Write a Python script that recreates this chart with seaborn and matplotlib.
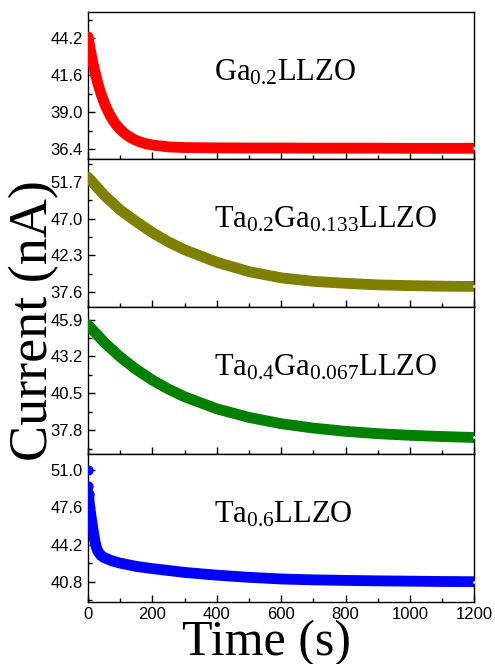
import numpy as np
import pandas as pd
import matplotlib
matplotlib.use("Agg")
import matplotlib.pyplot as plt
from matplotlib.ticker import AutoMinorLocator, FixedLocator
import seaborn as sns

# ---------------- data ----------------
t_ga = [0, 5, 10, 15, 20, 30, 40, 50, 60, 70, 80, 90, 100, 120, 140, 160, 180,
        200, 250, 300, 400, 500, 600, 700, 800, 900, 1000, 1100, 1200]
i_ga = [44.30, 43.63, 43.02, 42.46, 41.95, 41.05, 40.31, 39.68, 39.16, 38.72,
        38.35, 38.05, 37.79, 37.40, 37.12, 36.93, 36.79, 36.70, 36.57, 36.52,
        36.50, 36.49, 36.49, 36.48, 36.48, 36.48, 36.47, 36.47, 36.47]

t_ta2 = [0, 50, 100, 150, 200, 250, 300, 400, 500, 600, 700, 800, 900, 1000, 1100, 1200]
i_ta2 = [52.3, 50.0, 48.1, 46.6, 45.2, 44.0, 43.0, 41.4, 40.2, 39.4, 38.95, 38.7,
         38.5, 38.4, 38.33, 38.3]

t_ta4 = [0, 50, 100, 150, 200, 250, 300, 400, 500, 600, 700, 800, 900, 1000, 1100, 1200]
i_ta4 = [45.5, 44.23, 43.15, 42.24, 41.46, 40.80, 40.24, 39.36, 38.73, 38.27,
         37.95, 37.71, 37.54, 37.42, 37.33, 37.26]

t_ta6 = [0, 1, 2, 3, 5, 10, 15, 20, 25, 30, 40, 50, 75, 100, 150, 200, 300, 400,
         500, 600, 700, 800, 900, 1000, 1100, 1200]
i_ta6 = [51.0, 49.6, 48.8, 48.2, 47.6, 46.6, 45.6, 44.7, 44.0, 43.6, 43.2, 43.0,
         42.7, 42.5, 42.2, 42.0, 41.65, 41.4, 41.2, 41.05, 40.97, 40.92, 40.88,
         40.85, 40.82, 40.8]

labels = [r"Ga$_{0.2}$LLZO", r"Ta$_{0.2}$Ga$_{0.133}$LLZO",
          r"Ta$_{0.4}$Ga$_{0.067}$LLZO", r"Ta$_{0.6}$LLZO"]
colors = ["#FF0000", "#808000", "#008000", "#0000FF"]
yticks = [[36.4, 39.0, 41.6, 44.2],
          [37.6, 42.3, 47.0, 51.7],
          [37.8, 40.5, 43.2, 45.9],
          [40.8, 44.2, 47.6, 51.0]]
ylims = [(35.69, 46.06), (35.68, 54.6), (36.03, 46.83), (38.97, 52.46)]
xticks = [0, 200, 400, 600, 800, 1000, 1200]
# number of leading isolated points (drawn as separate circles)
n_isolated = [0, 0, 0, 2]

series = [(t_ga, i_ga), (t_ta2, i_ta2), (t_ta4, i_ta4), (t_ta6, i_ta6)]

# ---------------- style ----------------
sns.set_style("ticks")
plt.rcParams["font.family"] = ["Liberation Sans", "DejaVu Sans"]
plt.rcParams["mathtext.fontset"] = "custom"
plt.rcParams["mathtext.rm"] = "Liberation Serif"
plt.rcParams["mathtext.it"] = "Liberation Serif:italic"
plt.rcParams["mathtext.bf"] = "Liberation Serif:bold"
plt.rcParams["text.color"] = "black"

fig = plt.figure(figsize=(4.95, 6.64), dpi=100)
left, right, top, bottom = 0.178, 0.958, 0.982, 0.0938
h = (top - bottom) / 4
axes = []
for k in range(4):
    ax = fig.add_axes([left, top - (k + 1) * h, right - left, h])
    axes.append(ax)

for k, ax in enumerate(axes):
    t, y = series[k]
    df = pd.DataFrame({"t": t, "I": y})
    ni = n_isolated[k]
    sns.lineplot(data=df.iloc[ni:], x="t", y="I", ax=ax, color=colors[k],
                 linewidth=7.8, solid_capstyle="round", solid_joinstyle="round",
                 legend=False, zorder=3)
    if ni:
        sns.scatterplot(data=df.iloc[:ni + 1], x="t", y="I", ax=ax,
                        color=colors[k], s=55, linewidth=0, legend=False,
                        zorder=3)
    # small white dot at the last point (as in reference)
    sns.scatterplot(data=df.iloc[-1:], x="t", y="I", ax=ax, color="white",
                    s=4, linewidth=0, legend=False, zorder=4)

    ax.set_xlim(0, 1200)
    ax.set_ylim(*ylims[k])
    ax.yaxis.set_major_locator(FixedLocator(yticks[k]))
    ax.set_yticklabels([f"{v:.1f}" for v in yticks[k]])
    ax.yaxis.set_minor_locator(AutoMinorLocator(2))
    ax.xaxis.set_major_locator(FixedLocator(xticks))
    ax.xaxis.set_minor_locator(AutoMinorLocator(2))
    ax.tick_params(which="both", direction="in", top=False, right=False,
                   width=1.0, labelsize=12, colors="black", pad=4)
    ax.tick_params(which="major", length=5)
    ax.tick_params(which="minor", length=3)
    for sp in ax.spines.values():
        sp.set_visible(True)
        sp.set_linewidth(1.0)
        sp.set_color("black")
    ax.set_xlabel("")
    ax.set_ylabel("")
    if k < 3:
        ax.tick_params(axis="x", labelbottom=False)
    ax.text(0.325, 0.535, labels[k], transform=ax.transAxes, ha="left",
            va="baseline", fontsize=22, family="Liberation Serif", color="black")

fig.text(0.068, 0.517, "Current (nA)", rotation=90, ha="center", va="center",
         fontsize=39, family="Liberation Serif", color="black")
fig.text(0.539, 0.014, "Time (s)", ha="center", va="baseline",
         fontsize=36, family="Liberation Serif", color="black")

fig.savefig("out.png", dpi=100)
